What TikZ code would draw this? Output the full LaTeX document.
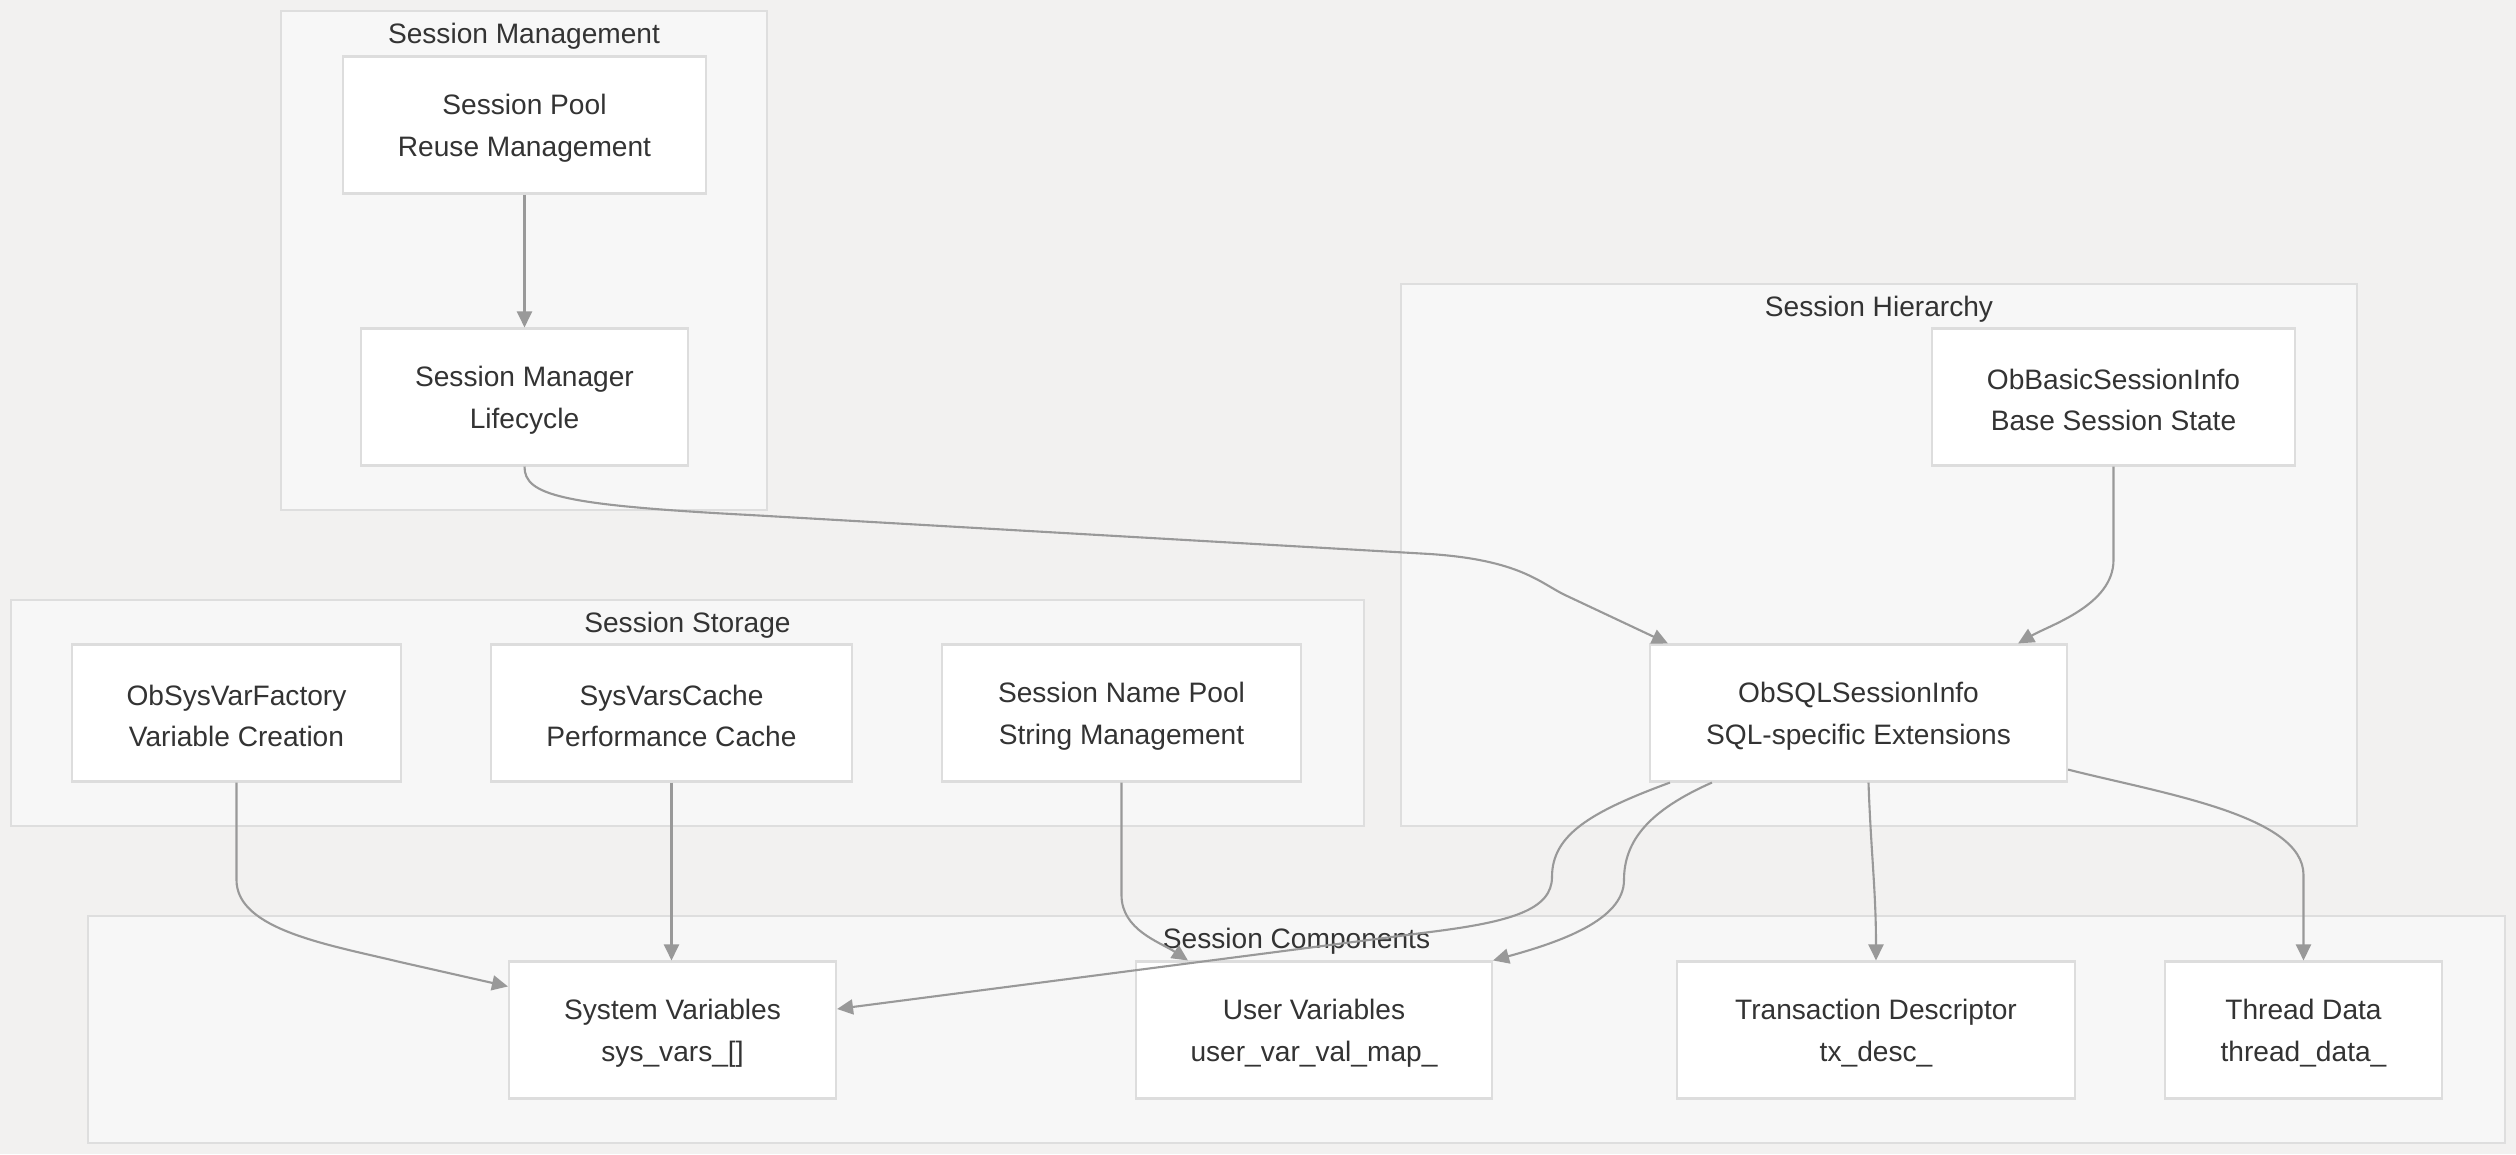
\documentclass[tikz,border=0pt]{standalone}
\usepackage{fontspec}
\setmainfont{Liberation Sans}
\usepackage{xcolor}
\usepackage{tikz}
\usetikzlibrary{positioning,arrows.meta}

\definecolor{bgcol}{HTML}{F2F1F0}
\definecolor{groupfill}{HTML}{F7F7F7}
\definecolor{groupline}{HTML}{DEDEDE}
\definecolor{boxline}{HTML}{DDDDDD}
\definecolor{txtcol}{HTML}{333333}
\definecolor{linkcol}{HTML}{999999}

\begin{document}
\begin{tikzpicture}[
    font=\fontsize{8pt}{11.9pt}\selectfont,
    group/.style={draw=groupline, fill=groupfill, line width=0.6pt, inner sep=0pt},
    grouptitle/.style={text=txtcol, inner sep=0pt},
    comp/.style={draw=boxline, fill=white, line width=0.6pt, text=txtcol, align=center, text height=19.4pt, minimum height=1.37cm, inner sep=0pt},
    link/.style={draw=linkcol, line width=0.6pt, -{Triangle[length=0.16cm,width=0.15cm]}}
]
    % Background
    \fill[bgcol] (0,0) rectangle (25.16,-11.54);

    % Groups
    \node[group, minimum width=4.86cm, minimum height=4.99cm] (mgmt) at (5.24,-2.605) {};
    \node[group, minimum width=9.56cm, minimum height=5.42cm] (hier) at (18.79,-5.55) {};
    \node[group, minimum width=13.53cm, minimum height=2.26cm] (storage) at (6.875,-7.13) {};
    \node[group, minimum width=24.17cm, minimum height=2.27cm] (comps) at (12.965,-10.295) {};
    \node[grouptitle, below=0.12cm of mgmt.north] (mgmttitle) {Session Management};
    \node[grouptitle, below=0.12cm of hier.north] (hiertitle) {Session Hierarchy};
    \node[grouptitle, below=0.12cm of storage.north] (storagetitle) {Session Storage};
    \node[grouptitle, below=0.12cm of comps.north] (compstitle) {Session Components};

    % Session management
    \node[comp, minimum width=3.63cm] (pool) at (5.245,-1.25) {Session Pool\\Reuse Management};
    \node[comp, minimum width=3.27cm] (mgr) at (5.245,-3.97) {Session Manager\\Lifecycle};

    % Session hierarchy
    \node[comp, minimum width=3.63cm] (basic) at (21.135,-3.97) {ObBasicSessionInfo\\Base Session State};
    \node[comp, minimum width=4.17cm] (sql) at (18.585,-7.13) {ObSQLSessionInfo\\SQL-specific Extensions};

    % Session storage
    \node[comp, minimum width=3.29cm] (factory) at (2.365,-7.13) {ObSysVarFactory\\Variable Creation};
    \node[comp, minimum width=3.61cm] (cache) at (6.715,-7.13) {SysVarsCache\\Performance Cache};
    \node[comp, minimum width=3.59cm] (namepool) at (11.215,-7.13) {Session Name Pool\\String Management};

    % Session components
    \node[comp, minimum width=3.27cm] (sysvars) at (6.725,-10.30) {System Variables\\sys\_vars\_[]};
    \node[comp, minimum width=3.56cm] (uservars) at (13.14,-10.30) {User Variables\\user\_var\_val\_map\_};
    \node[comp, minimum width=3.98cm] (txdesc) at (18.76,-10.30) {Transaction Descriptor\\tx\_desc\_};
    \node[comp, minimum width=2.77cm] (thread) at (23.035,-10.30) {Thread Data\\thread\_data\_};

    % Links
    \draw[link] (pool) -- (mgr);
    \draw[link] (mgr.south) .. controls (5.245,-4.95) and (5.6,-5.05) .. (7.5,-5.15) -- (14.3,-5.54)
        .. controls (15.2,-5.6) and (15.4,-5.83) .. (15.65,-5.95) -- ([xshift=0.19cm]sql.north west);
    \draw[link] (basic.south) -- (21.135,-5.6) .. controls (21.135,-6.05) and (20.5,-6.25) .. ([xshift=-0.5cm]sql.north east);
    \draw[link] (factory.south) -- (2.365,-8.8) .. controls (2.365,-9.3) and (3.3,-9.45) .. (4.0,-9.62) -- ([yshift=-0.26cm]sysvars.north west);
    \draw[link] (cache.south) -- (cache.south |- sysvars.north);
    \draw[link] (namepool.south) -- (11.215,-8.95) .. controls (11.215,-9.3) and (11.6,-9.42) .. ([xshift=0.53cm]uservars.north west);
    \draw[link] ([xshift=0.21cm]sql.south west) .. controls (15.9,-8.12) and (15.52,-8.35) .. (15.52,-8.77)
        .. controls (15.52,-9.1) and (15.1,-9.22) .. (14.3,-9.32) -- ([yshift=0.21cm]sysvars.east);
    \draw[link] ([xshift=0.63cm]sql.south west) .. controls (16.5,-8.1) and (16.24,-8.4) .. (16.24,-8.8)
        .. controls (16.24,-9.2) and (15.6,-9.42) .. (uservars.north east);
    \draw[link] ([xshift=0.1cm]sql.south) to[out=-88,in=90] (txdesc.north);
    \draw[link] ([yshift=0.13cm]sql.south east) .. controls (21.6,-7.93) and (23.035,-8.15) .. (23.035,-8.75) -- (thread.north);
\end{tikzpicture}
\end{document}
